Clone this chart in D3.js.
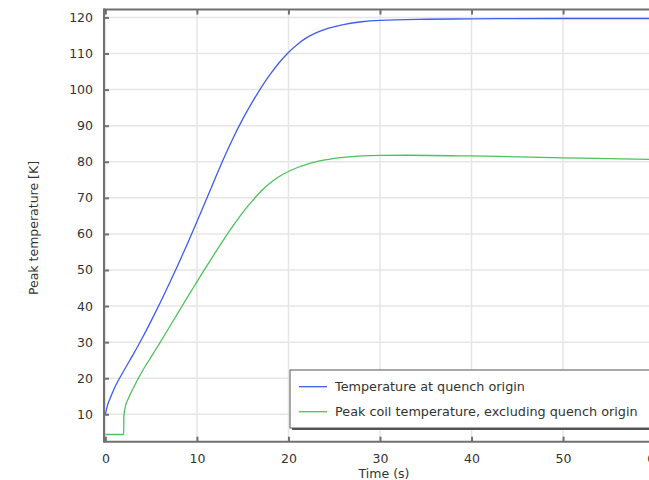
<!DOCTYPE html>
<html>
<head>
<meta charset="utf-8">
<script src="https://cdn.jsdelivr.net/npm/d3@7"></script>
<style>
  body { margin: 0; overflow: hidden; background: #fff; }
  text { font-family: "DejaVu Sans", sans-serif; fill: #333; }
</style>
</head>
<body>
<div id="chart"></div>
<script>
// values
const xTicks = [0, 10, 20, 30, 40, 50, 60]
const yTicks = [10, 20, 30, 40, 50, 60, 70, 80, 90, 100, 110, 120]

const blueTime = [0, 0.25, 0.5, 1, 2, 3, 4, 5, 6, 7, 8, 9, 10, 11, 12, 13, 14, 15, 16, 17, 18, 19, 20, 21, 22, 23, 24, 26, 28, 30, 35, 40, 50, 60, 63]
const blueTemp = [10, 12.6, 14.3, 17.3, 22.0, 26.4, 31.0, 35.9, 41.0, 46.3, 51.8, 57.5, 63.4, 69.4, 75.4, 81.3, 86.8, 91.8, 96.3, 100.5, 104.2, 107.5, 110.3, 112.6, 114.4, 115.7, 116.7, 118.0, 118.8, 119.2, 119.5, 119.6, 119.7, 119.7, 119.7]

const greenTime = [0, 2.0, 2.02, 2.2, 2.5, 3.0, 3.5, 4, 5, 6, 7, 8, 9, 10, 11, 12, 13, 14, 15, 16, 17, 18, 19, 20, 21, 22, 24, 26, 28, 30, 33, 40, 50, 60, 63]
const greenTemp = [4.4, 4.4, 9.5, 12.3, 14.3, 17.0, 19.5, 21.8, 25.9, 30.0, 34.2, 38.4, 42.6, 46.7, 50.8, 54.8, 58.7, 62.4, 65.9, 69.0, 71.8, 74.1, 75.9, 77.3, 78.4, 79.3, 80.5, 81.2, 81.6, 81.75, 81.8, 81.6, 81.1, 80.6, 80.5]

const seriesNames = ["Temperature at quench origin", "Peak coil temperature, excluding quench origin"]
const seriesColors = ["#3f5cf2", "#4cc25a"]

var width = 720, height = 480;

var svg = d3.select("#chart")
    .append("svg")
    .attr("width", width)
    .attr("height", height)

var x = d3.scaleLinear().domain([-0.15, 63]).range([104, 104 + 63.15 * 9.154])
var y = d3.scaleLinear().domain([2.4, 122.2]).range([441.7, 9.5])

var plotRight = x(63)

// grid
svg.append("g").selectAll("line").data(xTicks).join("line")
    .attr("x1", d => x(d)).attr("x2", d => x(d))
    .attr("y1", y(122.2)).attr("y2", y(2.4))
    .attr("stroke", "#e6e6e6").attr("stroke-width", 1.5)
svg.append("g").selectAll("line").data(yTicks).join("line")
    .attr("x1", x(-0.15)).attr("x2", plotRight)
    .attr("y1", d => y(d)).attr("y2", d => y(d))
    .attr("stroke", "#e6e6e6").attr("stroke-width", 1.5)

// lines
var line = d3.line().curve(d3.curveMonotoneX)
    .x(d => x(d[0])).y(d => y(d[1]))

svg.append("path")
    .datum(d3.zip(greenTime, greenTemp))
    .attr("fill", "none").attr("stroke", seriesColors[1]).attr("stroke-width", 1.3)
    .attr("d", line)
svg.append("path")
    .datum(d3.zip(blueTime, blueTemp))
    .attr("fill", "none").attr("stroke", seriesColors[0]).attr("stroke-width", 1.3)
    .attr("d", line)

// frame
var frame = "#707070"
svg.append("line").attr("x1", 104).attr("x2", plotRight).attr("y1", 9.5).attr("y2", 9.5)
    .attr("stroke", frame).attr("stroke-width", 2)
svg.append("line").attr("x1", 104).attr("x2", plotRight).attr("y1", 441.7).attr("y2", 441.7)
    .attr("stroke", frame).attr("stroke-width", 2)
svg.append("line").attr("x1", 104).attr("x2", 104).attr("y1", 8.5).attr("y2", 442.7)
    .attr("stroke", frame).attr("stroke-width", 2)

// axes (ticks point inwards)
var xAxis = svg.append("g")
    .attr("transform", "translate(0,441.7)")
    .call(d3.axisBottom(x).tickValues(xTicks).tickSizeInner(-5).tickSizeOuter(0).tickPadding(12))
var xTop = svg.append("g")
    .attr("transform", "translate(0,9.5)")
    .call(d3.axisTop(x).tickValues(xTicks).tickSizeInner(-5).tickSizeOuter(0).tickFormat(""))
var yAxis = svg.append("g")
    .attr("transform", "translate(104,0)")
    .call(d3.axisLeft(y).tickValues(yTicks).tickSizeInner(-5).tickSizeOuter(0).tickPadding(11))

;[xAxis, xTop, yAxis].forEach(g => {
    g.select(".domain").remove()
    g.selectAll(".tick line").attr("stroke", frame).attr("stroke-width", 2)
    g.selectAll(".tick text").attr("font-size", 12.5).attr("fill", "#333")
        .style("font-family", "DejaVu Sans")
})

// axis titles
svg.append("text")
    .attr("x", 384).attr("y", 477.5)
    .attr("text-anchor", "middle")
    .attr("font-size", 12.5)
    .text("Time (s)")
svg.append("text")
    .attr("transform", "translate(38,228) rotate(-90)")
    .attr("text-anchor", "middle")
    .attr("font-size", 12.5)
    .text("Peak temperature [K]")

// legend
var lg = svg.append("g").attr("transform", "translate(290,370)")
lg.append("rect").attr("x", 2).attr("y", 2).attr("width", 400).attr("height", 58)
    .attr("fill", "#555")
lg.append("rect").attr("x", 0).attr("y", 0).attr("width", 400).attr("height", 58)
    .attr("fill", "#fff").attr("stroke", "#555").attr("stroke-width", 1)
seriesNames.forEach((name, i) => {
    var yy = 16.7 + i * 25
    lg.append("line").attr("x1", 9).attr("x2", 37).attr("y1", yy).attr("y2", yy)
        .attr("stroke", seriesColors[i]).attr("stroke-width", 1.3)
    lg.append("text").attr("x", 45).attr("y", yy + 4.5)
        .attr("font-size", 12.8)
        .text(name)
})
</script>
</body>
</html>
